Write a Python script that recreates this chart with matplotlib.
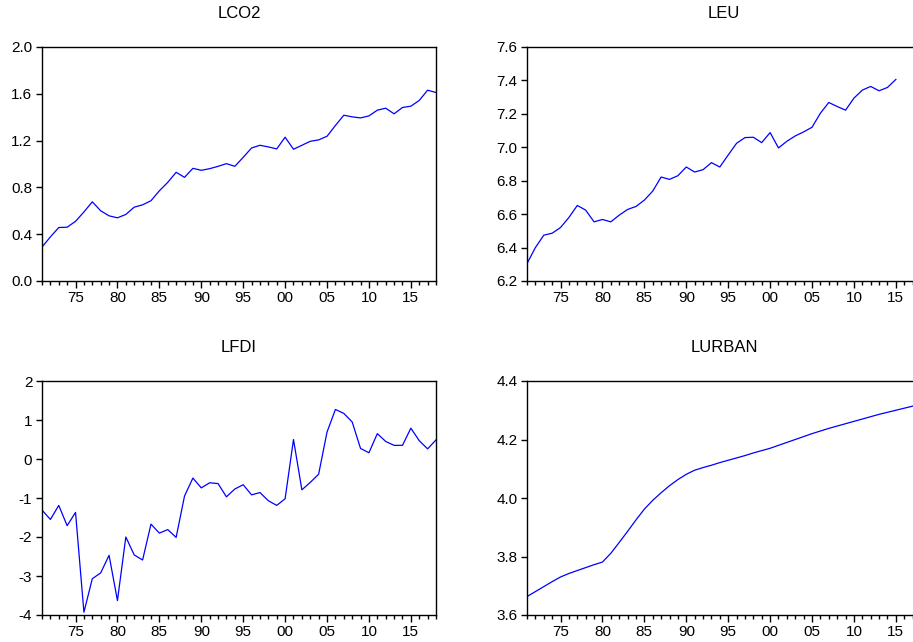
import matplotlib
matplotlib.use("Agg")
import matplotlib.pyplot as plt

plt.rcParams['font.family'] = ['Liberation Sans', 'DejaVu Sans']

# anos 1971-2018
anos = list(range(1971, 2019))

lco2 = [0.29, 0.377, 0.457, 0.46, 0.51, 0.59, 0.677, 0.60, 0.557, 0.54,
        0.569, 0.631, 0.651, 0.686, 0.771, 0.843, 0.929, 0.886, 0.963, 0.946,
        0.96, 0.98, 1.003, 0.98, 1.057, 1.137, 1.16, 1.146, 1.129, 1.229,
        1.126, 1.16, 1.194, 1.206, 1.237, 1.329, 1.417, 1.403, 1.394, 1.411,
        1.46, 1.477, 1.429, 1.483, 1.494, 1.543, 1.631, 1.611]

# LEU vai so ate 2015
leu = [6.304, 6.40, 6.474, 6.486, 6.52, 6.58, 6.652, 6.624, 6.554, 6.568,
       6.554, 6.594, 6.628, 6.646, 6.684, 6.738, 6.822, 6.808, 6.83, 6.882,
       6.852, 6.866, 6.908, 6.882, 6.954, 7.024, 7.058, 7.06, 7.028, 7.088,
       6.996, 7.036, 7.068, 7.092, 7.12, 7.204, 7.268, 7.244, 7.222, 7.294,
       7.342, 7.364, 7.338, 7.358, 7.406]

lfdi = [-1.31, -1.55, -1.19, -1.71, -1.37, -3.93, -3.07, -2.92, -2.47, -3.63,
        -2.0, -2.46, -2.59, -1.67, -1.90, -1.81, -2.01, -0.95, -0.49, -0.74,
        -0.61, -0.63, -0.97, -0.77, -0.66, -0.92, -0.86, -1.07, -1.19, -1.02,
        0.50, -0.79, -0.60, -0.39, 0.69, 1.27, 1.17, 0.95, 0.27, 0.16,
        0.65, 0.45, 0.35, 0.35, 0.79, 0.47, 0.26, 0.49]

lurban = [3.663, 3.680, 3.697, 3.714, 3.730, 3.742, 3.752, 3.762, 3.772, 3.781,
          3.811, 3.848, 3.886, 3.925, 3.962, 3.992, 4.018, 4.042, 4.063, 4.081,
          4.095, 4.104, 4.112, 4.121, 4.129, 4.137, 4.145, 4.154, 4.162, 4.170,
          4.180, 4.190, 4.200, 4.210, 4.220, 4.229, 4.238, 4.246, 4.254, 4.262,
          4.270, 4.278, 4.286, 4.293, 4.300, 4.307, 4.314, 4.320]

paineis = [
    ("LCO2", lco2, (0.0, 2.0), [0.0, 0.4, 0.8, 1.2, 1.6, 2.0], "%.1f"),
    ("LEU", leu, (6.2, 7.6), [6.2, 6.4, 6.6, 6.8, 7.0, 7.2, 7.4, 7.6], "%.1f"),
    ("LFDI", lfdi, (-4, 2), [-4, -3, -2, -1, 0, 1, 2], "%d"),
    ("LURBAN", lurban, (3.6, 4.4), [3.6, 3.8, 4.0, 4.2, 4.4], "%.1f"),
]

# posicoes em pixels (esq, topo) -> a direita fica cortada como na imagem
pos = [(42, 47), (527, 47), (42, 381), (527, 381)]
W, H = 913, 642
larg, alt = 394, 234

fig = plt.figure(figsize=(9.13, 6.42), dpi=100)

major = list(range(1975, 2019, 5))
for (titulo, vals, ylim, yt, fmt), (px, py) in zip(paineis, pos):
    ax = fig.add_axes([px / W, 1 - (py + alt) / H, larg / W, alt / H])
    ax.plot(anos[:len(vals)], vals, color='#0000ff', lw=0.9)
    ax.set_xlim(1971, 2018)
    ax.set_ylim(*ylim)
    ax.set_yticks(yt)
    ax.set_yticklabels([fmt % v for v in yt])
    ax.set_xticks(major)
    ax.set_xticklabels(["%02d" % (a % 100) for a in major])
    ax.set_xticks(anos, minor=True)
    ax.tick_params(axis='x', which='major', length=5, width=1, direction='out',
                   labelsize=11, pad=2)
    ax.tick_params(axis='x', which='minor', length=3, width=1, direction='out')
    ax.tick_params(axis='y', length=4, width=1, direction='out', labelsize=11, pad=3)
    for s in ax.spines.values():
        s.set_linewidth(1.0)
        s.set_color('black')
    ax.set_title(titulo, fontsize=12, pad=21)

plt.savefig("out.png", dpi=100)
